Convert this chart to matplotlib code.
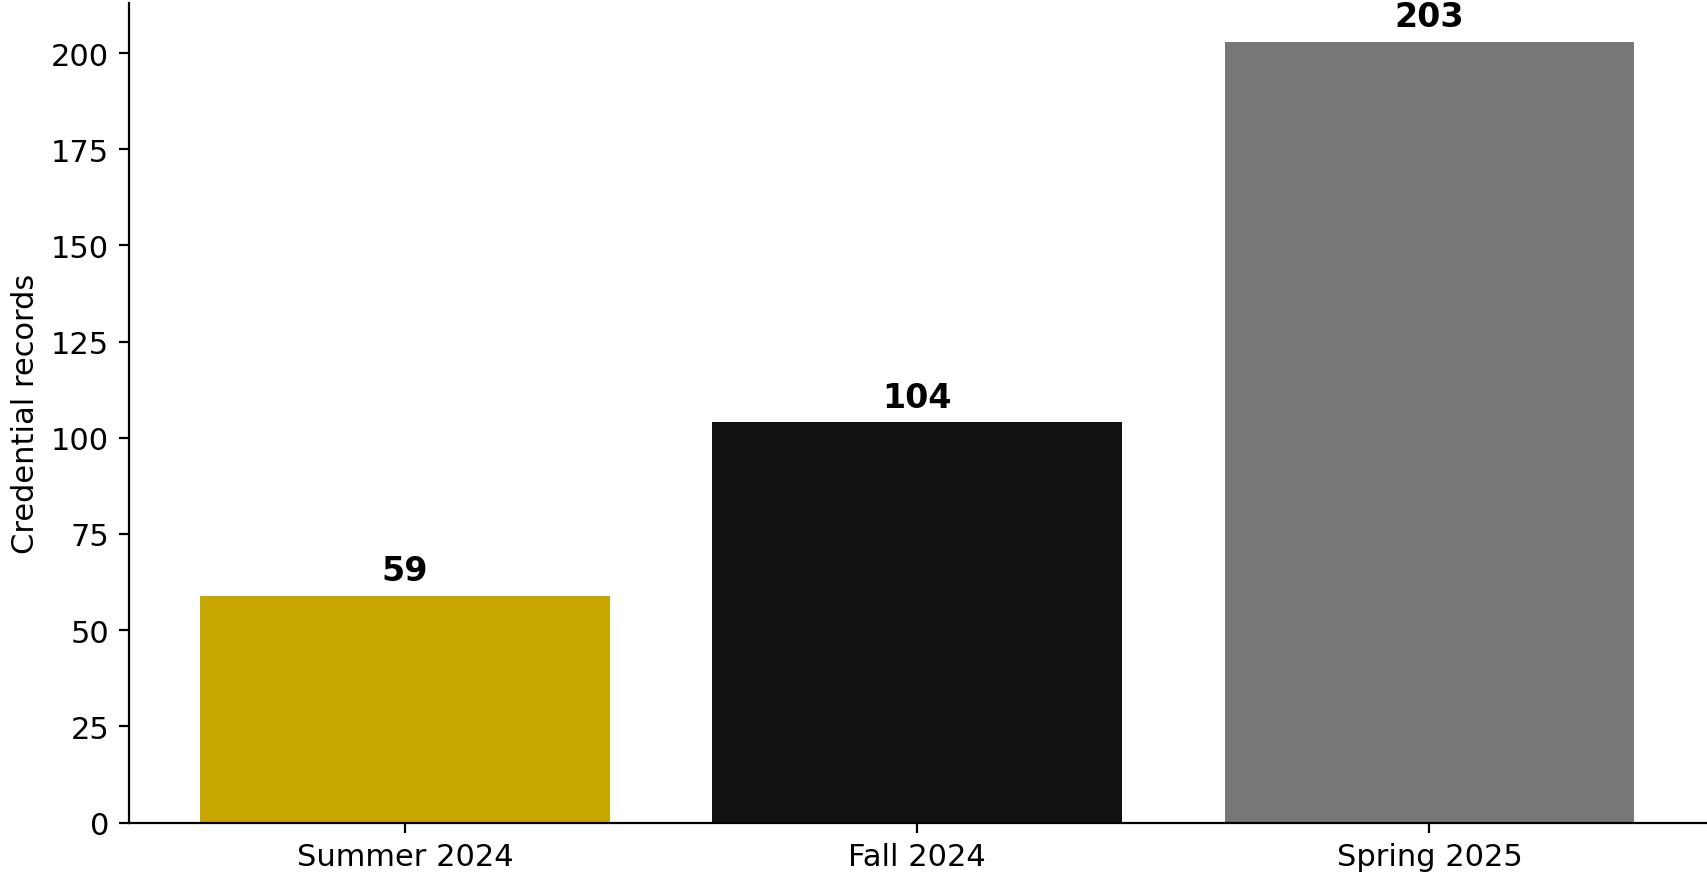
import matplotlib
matplotlib.use("Agg")
import matplotlib.pyplot as plt

categories = ["Summer 2024", "Fall 2024", "Spring 2025"]
values = [59, 104, 203]
colors = ["#C8A700", "#121212", "#777777"]

W, H, DPI = 1707, 879, 200
fig = plt.figure(figsize=(W / DPI, H / DPI), dpi=DPI)
left, right = 128.5 / W, 1706 / W
bottom, top = (H - 823.5) / H, (H - 3.5) / H
ax = fig.add_axes([left, bottom, right - left, top - bottom])

bars = ax.bar(categories, values, color=colors, width=0.8)
for b, v in zip(bars, values):
    ax.annotate(str(v), (b.get_x() + b.get_width() / 2, v), xytext=(0, 3),
                textcoords="offset points", ha="center", va="bottom",
                fontsize=12, fontweight="bold")

ax.set_ylim(0, max(values) * 1.05)
ax.set_ylabel("Credential records", fontsize=11)
ax.tick_params(labelsize=11)
ax.spines["top"].set_visible(False)
ax.spines["right"].set_visible(False)

fig.savefig("out.png", dpi=DPI)
